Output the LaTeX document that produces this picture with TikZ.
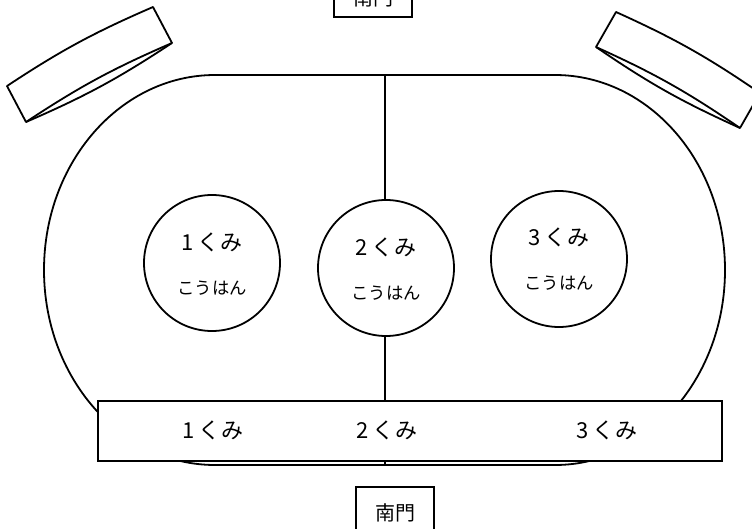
\documentclass[tikz,border=0pt]{standalone}
\usepackage{fontspec}
\usepackage{xcolor}
\newfontfamily\cjk{Noto Sans CJK JP}
\tikzset{
  trackLine/.style={draw=black, line width=1.35pt},
  classCircle/.style={circle, draw=black, fill=white, line width=1.35pt, minimum size=102pt, inner sep=0pt},
  seatBar/.style={rectangle, draw=black, fill=white, line width=1.35pt, minimum width=468pt, minimum height=45pt, inner sep=0pt},
  gateBox/.style={rectangle, draw=black, fill=white, line width=1.35pt, minimum width=58.5pt, minimum height=39pt, inner sep=0pt, font=\fontsize{15}{17}\selectfont\cjk},
  classLabel/.style={font=\fontsize{16.5}{19}\selectfont\cjk},
  dutyLabel/.style={font=\fontsize{13}{16}\selectfont\cjk}
}

\begin{document}
\begin{tikzpicture}[x=0.75pt, y=-0.75pt]
  \useasboundingbox (0,0) rectangle (752,528);
  \clip (0,0) rectangle (752,528);

  \draw[trackLine] (215,75) arc[start angle=90, end angle=270, x radius=128.25pt, y radius=146.25pt]
    -- (555,465) arc[start angle=-90, end angle=90, x radius=127.5pt, y radius=146.25pt] -- cycle;

  \coordinate (trackTop) at (385,75);
  \coordinate (trackBottom) at (385,465);

  \node[classCircle] (circleOne) at (212,263) {};
  \node[classCircle] (circleTwo) at (386,268) {};
  \node[classCircle] (circleThree) at (559,259) {};
  \node[seatBar] (seatBar) at (410,431) {};
  \node[gateBox, minimum height=28.5pt] (northGate) at (373,-2) {南門};
  \node[gateBox] (southGate) at (395,513) {南門};

  \draw[trackLine] (trackTop) -- (trackTop |- circleTwo.north);
  \draw[trackLine] (trackTop |- circleTwo.south) -- (trackTop |- seatBar.north);
  \draw[trackLine] (trackTop |- seatBar.south) -- (trackBottom);

  \node[classLabel] (labelOne) at (212,242) {1\,くみ};
  \node[classLabel] (labelTwo) at (386,247) {2\,くみ};
  \node[classLabel] (labelThree) at (559,237) {3\,くみ};
  \node[dutyLabel] (dutyOne) at (212,288) {こうはん};
  \node[dutyLabel] (dutyTwo) at (386,293) {こうはん};
  \node[dutyLabel] (dutyThree) at (559,283) {こうはん};

  \node[classLabel] (seatOne) at (213,430) {1\,くみ};
  \node[classLabel] (seatTwo) at (387,430) {2\,くみ};
  \node[classLabel] (seatThree) at (607,430) {3\,くみ};

  \draw[trackLine, line join=round] (7,86) to[bend left=5] (153,7) -- (172,43) to[bend left=5] (26,122) -- cycle;
  \draw[trackLine] (26,122) to[bend left=5] (172,43);

  \draw[trackLine, line join=round] (616,12) to[bend left=5] (760,93) -- (740,128) to[bend left=5] (596,47) -- cycle;
  \draw[trackLine] (596,47) to[bend left=5] (740,128);
\end{tikzpicture}
\end{document}
